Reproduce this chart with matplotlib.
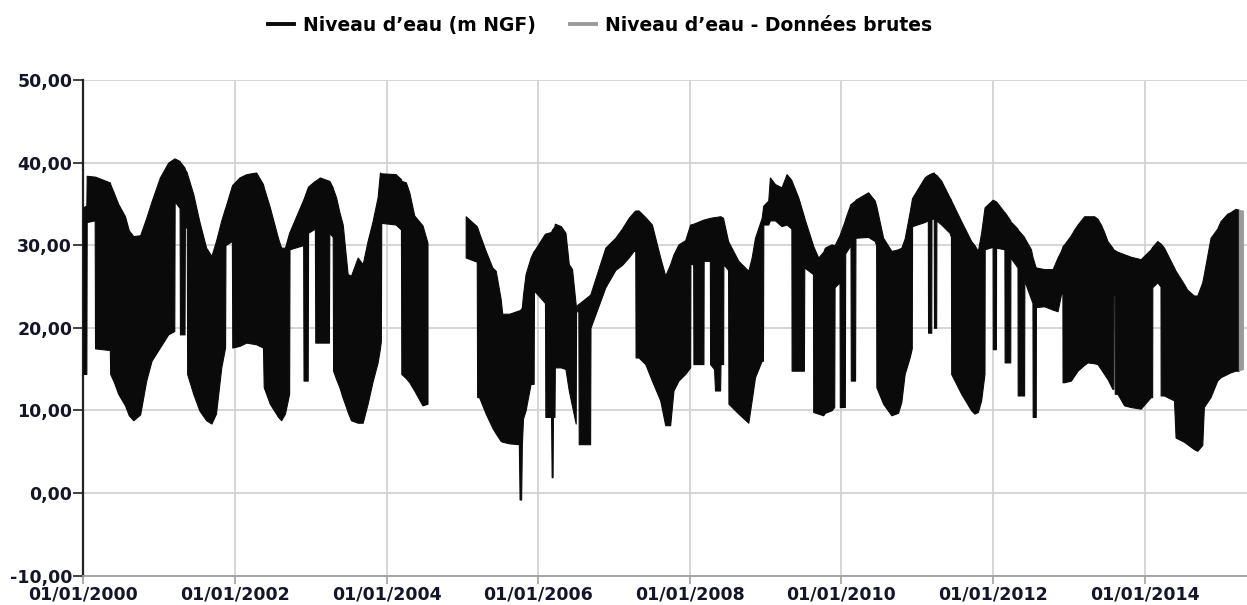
import numpy as np
import matplotlib
matplotlib.use("Agg")
import matplotlib.pyplot as plt
from matplotlib.lines import Line2D

# (decimal year, upper envelope, lower envelope) of "Niveau d'eau (m NGF)"
seg_2000_2004 = [
    (2000.000, 34.6, 14.4), (2000.040, 34.8, 14.4), (2000.045, 38.4, 32.8),
    (2000.150, 38.3, 33.0), (2000.155, 38.3, 17.5), (2000.350, 37.6, 17.3),
    (2000.355, 37.4, 14.4), (2000.400, 36.4, 13.5), (2000.460, 35.0, 12.0),
    (2000.550, 33.5, 10.6), (2000.600, 31.8, 9.4), (2000.660, 31.1, 8.8),
    (2000.750, 31.2, 9.5), (2000.830, 33.3, 13.6), (2000.900, 35.3, 16.0),
    (2001.010, 38.2, 17.6), (2001.120, 40.0, 19.2), (2001.200, 40.5, 19.6),
    (2001.205, 40.5, 35.3), (2001.270, 40.2, 34.5), (2001.275, 40.1, 19.2),
    (2001.335, 39.4, 19.2), (2001.340, 39.2, 32.5), (2001.365, 38.8, 32.0),
    (2001.370, 38.6, 14.4), (2001.450, 36.2, 12.0), (2001.530, 32.9, 10.0),
    (2001.620, 29.7, 8.8), (2001.690, 28.7, 8.4), (2001.750, 30.5, 9.6),
    (2001.820, 33.0, 15.2), (2001.870, 34.5, 17.6), (2001.875, 34.6, 30.0),
    (2001.960, 37.2, 30.5), (2001.965, 37.3, 17.6), (2002.060, 38.2, 17.8),
    (2002.150, 38.6, 18.2), (2002.280, 38.8, 18.0), (2002.370, 37.4, 17.6),
    (2002.380, 37.0, 12.8), (2002.460, 34.6, 10.8), (2002.570, 30.8, 9.2),
    (2002.610, 29.7, 8.8), (2002.660, 29.7, 9.6), (2002.715, 31.5, 12.0),
    (2002.720, 31.6, 29.5), (2002.900, 35.5, 30.0), (2002.905, 35.6, 13.6),
    (2002.960, 37.0, 13.6), (2002.965, 37.1, 31.5), (2003.055, 37.8, 32.0),
    (2003.060, 37.8, 18.2), (2003.120, 38.2, 18.2), (2003.240, 37.8, 18.2),
    (2003.245, 37.8, 31.5), (2003.290, 37.0, 31.0), (2003.295, 36.8, 14.8),
    (2003.334, 35.8, 13.8), (2003.378, 34.0, 12.8), (2003.422, 32.5, 11.5),
    (2003.465, 28.5, 10.4), (2003.487, 26.5, 9.8), (2003.531, 26.3, 8.8),
    (2003.619, 28.5, 8.5), (2003.685, 27.7, 8.5), (2003.750, 30.5, 10.8),
    (2003.816, 32.9, 13.5), (2003.882, 35.8, 15.8), (2003.913, 38.8, 17.5),
    (2003.925, 38.7, 18.4), (2003.930, 38.7, 32.7), (2004.120, 38.6, 32.5),
    (2004.190, 38.0, 31.9), (2004.195, 37.8, 14.4), (2004.255, 37.6, 13.9),
    (2004.300, 36.4, 13.4), (2004.365, 33.6, 12.4), (2004.474, 32.4, 10.6),
    (2004.540, 30.3, 10.8),
]

seg_2005_2015 = [
    (2005.044, 33.5, 28.5), (2005.190, 32.3, 28.0), (2005.195, 32.2, 11.6),
    (2005.220, 31.5, 11.6), (2005.308, 29.3, 9.6), (2005.395, 27.3, 7.9),
    (2005.440, 26.9, 7.2), (2005.505, 23.5, 6.3), (2005.526, 21.7, 6.2),
    (2005.620, 21.7, 6.0), (2005.745, 22.1, 5.9), (2005.755, 22.1, -0.8),
    (2005.775, 22.3, -0.8), (2005.785, 22.5, 5.9), (2005.800, 24.0, 9.0),
    (2005.834, 26.5, 10.0), (2005.900, 28.5, 13.2), (2005.940, 29.3, 13.2),
    (2005.945, 29.3, 24.5), (2006.090, 31.4, 23.0), (2006.095, 31.4, 9.2),
    (2006.170, 31.6, 9.2), (2006.178, 31.8, 1.9), (2006.190, 32.0, 1.9),
    (2006.195, 32.0, 9.2), (2006.215, 32.3, 9.2), (2006.220, 32.6, 15.2),
    (2006.300, 32.3, 15.2), (2006.360, 31.5, 15.0), (2006.404, 27.7, 12.4),
    (2006.447, 27.1, 10.5), (2006.495, 22.8, 8.4), (2006.500, 22.6, 22.0),
    (2006.530, 22.9, 22.0), (2006.535, 22.9, 5.9), (2006.685, 24.0, 5.9),
    (2006.690, 24.1, 20.0), (2006.886, 29.7, 24.9), (2007.018, 30.9, 27.0),
    (2007.105, 32.0, 27.6), (2007.193, 33.3, 28.5), (2007.259, 34.0, 29.3),
    (2007.281, 34.2, 29.3), (2007.285, 34.2, 16.4), (2007.325, 34.2, 16.4),
    (2007.413, 33.4, 15.6), (2007.500, 32.5, 13.6), (2007.610, 28.5, 11.2),
    (2007.676, 26.3, 8.2), (2007.741, 27.7, 8.2), (2007.785, 28.9, 12.4),
    (2007.851, 30.1, 13.6), (2007.939, 30.6, 14.4), (2008.005, 32.5, 15.2),
    (2008.008, 32.5, 27.7), (2008.045, 32.6, 27.7), (2008.048, 32.6, 15.6),
    (2008.180, 33.1, 15.6), (2008.183, 33.1, 28.1), (2008.265, 33.3, 28.1),
    (2008.268, 33.3, 15.6), (2008.320, 33.4, 15.0), (2008.333, 33.4, 12.4),
    (2008.400, 33.5, 12.4), (2008.405, 33.5, 15.6), (2008.440, 33.3, 15.6),
    (2008.443, 33.1, 27.7), (2008.505, 30.5, 27.0), (2008.510, 30.4, 10.8),
    (2008.641, 28.1, 9.6), (2008.772, 26.9, 8.5), (2008.816, 28.5, 11.2),
    (2008.860, 30.9, 14.0), (2008.948, 33.3, 16.0), (2008.965, 34.5, 16.0),
    (2008.970, 34.8, 32.5), (2009.035, 35.4, 32.5), (2009.057, 38.2, 33.0),
    (2009.124, 37.4, 33.0), (2009.210, 37.0, 32.3), (2009.277, 38.6, 32.5),
    (2009.340, 37.9, 32.0), (2009.343, 37.8, 14.8), (2009.430, 35.8, 14.8),
    (2009.505, 33.5, 14.8), (2009.510, 33.3, 27.3), (2009.625, 30.0, 26.5),
    (2009.628, 29.9, 9.8), (2009.694, 28.5, 9.6), (2009.760, 29.2, 9.4),
    (2009.782, 29.7, 9.7), (2009.869, 30.1, 10.0), (2009.905, 30.0, 10.4),
    (2009.910, 30.0, 24.9), (2009.975, 31.2, 25.5), (2009.979, 31.3, 10.4),
    (2010.045, 33.0, 10.4), (2010.050, 33.2, 29.0), (2010.120, 35.0, 30.0),
    (2010.124, 35.0, 13.6), (2010.180, 35.4, 13.6), (2010.185, 35.5, 30.9),
    (2010.352, 36.4, 31.0), (2010.440, 35.4, 30.5), (2010.458, 34.8, 30.0),
    (2010.461, 34.7, 12.8), (2010.550, 30.9, 10.8), (2010.659, 29.3, 9.4),
    (2010.747, 29.5, 9.7), (2010.790, 29.7, 11.0), (2010.834, 30.8, 14.4),
    (2010.900, 34.0, 16.4), (2010.928, 35.5, 17.5), (2010.932, 35.7, 32.3),
    (2011.097, 38.2, 32.8), (2011.140, 38.5, 33.0), (2011.143, 38.5, 19.4),
    (2011.185, 38.7, 19.4), (2011.188, 38.7, 33.2), (2011.218, 38.8, 33.2),
    (2011.221, 38.7, 20.0), (2011.250, 38.5, 20.0), (2011.253, 38.5, 33.0),
    (2011.317, 37.8, 32.5), (2011.426, 35.8, 31.5), (2011.445, 35.5, 31.0),
    (2011.448, 35.4, 14.4), (2011.580, 32.9, 12.0), (2011.711, 30.5, 10.0),
    (2011.755, 30.0, 9.6), (2011.800, 29.3, 9.8), (2011.843, 31.5, 11.2),
    (2011.887, 34.5, 14.4), (2011.890, 34.6, 29.5), (2011.995, 35.5, 29.8),
    (2011.997, 35.5, 17.4), (2012.038, 35.3, 17.4), (2012.040, 35.3, 29.7),
    (2012.150, 34.0, 29.5), (2012.153, 34.0, 15.8), (2012.227, 33.0, 15.8),
    (2012.229, 32.9, 28.5), (2012.323, 32.0, 27.3), (2012.325, 31.9, 11.8),
    (2012.410, 31.0, 11.8), (2012.413, 30.9, 25.7), (2012.500, 29.5, 23.5),
    (2012.520, 28.6, 23.0), (2012.523, 28.5, 9.2), (2012.563, 27.3, 9.2),
    (2012.566, 27.3, 22.5), (2012.676, 27.1, 22.6), (2012.786, 27.1, 22.2),
    (2012.851, 28.5, 22.0), (2012.895, 29.3, 24.0), (2012.915, 29.8, 24.5),
    (2012.917, 29.9, 13.4), (2012.939, 30.1, 13.4), (2013.027, 31.2, 13.6),
    (2013.071, 31.9, 14.2), (2013.115, 32.5, 14.8), (2013.202, 33.5, 15.5),
    (2013.246, 33.5, 15.8), (2013.334, 33.5, 15.7), (2013.378, 33.2, 15.6),
    (2013.422, 32.5, 15.0), (2013.465, 31.6, 14.4), (2013.509, 30.5, 13.8),
    (2013.575, 29.7, 12.6), (2013.586, 29.5, 12.6), (2013.588, 29.5, 24.0),
    (2013.604, 29.4, 24.0), (2013.606, 29.4, 12.0), (2013.641, 29.2, 12.0),
    (2013.729, 28.9, 10.6), (2013.816, 28.6, 10.4), (2013.948, 28.3, 10.2),
    (2014.080, 29.5, 11.6), (2014.099, 29.8, 11.6), (2014.101, 29.8, 24.9),
    (2014.167, 30.5, 25.5), (2014.209, 30.2, 25.0), (2014.211, 30.2, 11.8),
    (2014.255, 29.7, 11.8), (2014.387, 27.3, 11.2), (2014.408, 26.9, 6.7),
    (2014.518, 25.3, 6.2), (2014.562, 24.6, 5.9), (2014.650, 23.9, 5.3),
    (2014.694, 23.9, 5.1), (2014.760, 25.5, 5.8), (2014.781, 26.5, 10.4),
    (2014.869, 30.9, 11.6), (2014.957, 32.0, 13.6), (2015.000, 32.9, 14.0),
    (2015.088, 33.8, 14.4), (2015.132, 34.0, 14.6), (2015.198, 34.4, 14.8),
    (2015.240, 34.3, 14.8),
]

# "Niveau d'eau - Données brutes" (raw data, grey tail)
raw_years = [2015.240, 2015.300]
raw_upper = [34.3, 34.2]
raw_lower = [14.8, 15.0]

y_ticks = [-10, 0, 10, 20, 30, 40, 50]
y_labels = ["-10,00", "0,00", "10,00", "20,00", "30,00", "40,00", "50,00"]
x_ticks = [2000, 2002, 2004, 2006, 2008, 2010, 2012, 2014]
x_labels = ["01/01/2000", "01/01/2002", "01/01/2004", "01/01/2006",
            "01/01/2008", "01/01/2010", "01/01/2012", "01/01/2014"]

series_color = "#0a0a0a"
raw_color = "#9a9a9a"
label_color = "#15152a"

W, H = 1247, 605
fig = plt.figure(figsize=(W / 100, H / 100), dpi=100)
ax = fig.add_axes([83.3 / W, 1 - 575.5 / H, (W - 83.3) / W, (575.5 - 80) / H])

for seg in (seg_2000_2004, seg_2005_2015):
    t, hi, lo = (np.array(c) for c in zip(*seg))
    ax.fill_between(t, lo, hi, color=series_color, linewidth=0.8,
                    edgecolor=series_color, zorder=3)
ax.fill_between(raw_years, raw_lower, raw_upper, color=raw_color,
                linewidth=0.5, zorder=3)

ax.set_xlim(2000, 2015.35)
ax.set_ylim(-10, 50)
ax.set_yticks(y_ticks)
ax.set_yticklabels(y_labels)
ax.set_xticks(x_ticks)
ax.set_xticklabels(x_labels)

ax.grid(True, color="#d2d2d2", linewidth=1.3, zorder=0)
ax.set_axisbelow(True)
for s in ("top", "right"):
    ax.spines[s].set_visible(False)
ax.spines["left"].set_color("#222222")
ax.spines["left"].set_linewidth(1.6)
ax.spines["bottom"].set_color("#a0a0a0")
ax.spines["bottom"].set_linewidth(1.3)

ax.tick_params(axis="y", length=7, width=1.3, color="#333333", pad=1,
               labelsize=12.5, labelcolor=label_color)
ax.tick_params(axis="x", length=6, width=1.2, color="#a0a0a0", pad=1,
               labelsize=12.5, labelcolor=label_color)
for lab in ax.get_xticklabels() + ax.get_yticklabels():
    lab.set_fontweight("bold")
    lab.set_fontfamily("DejaVu Sans")

handles = [Line2D([], [], color=series_color, lw=2.8),
           Line2D([], [], color=raw_color, lw=2.8)]
fig.legend(handles, ["Niveau d\u2019eau (m NGF)", "Niveau d\u2019eau - Donn\u00e9es brutes"],
           loc="upper center", bbox_to_anchor=(600 / W, 1 + 1 / H), ncol=2,
           frameon=False, handlelength=1.4, handletextpad=0.5,
           columnspacing=1.8,
           prop={"family": "DejaVu Sans", "weight": "bold", "size": 13.5})

fig.savefig("out.png", dpi=100, facecolor="white")
